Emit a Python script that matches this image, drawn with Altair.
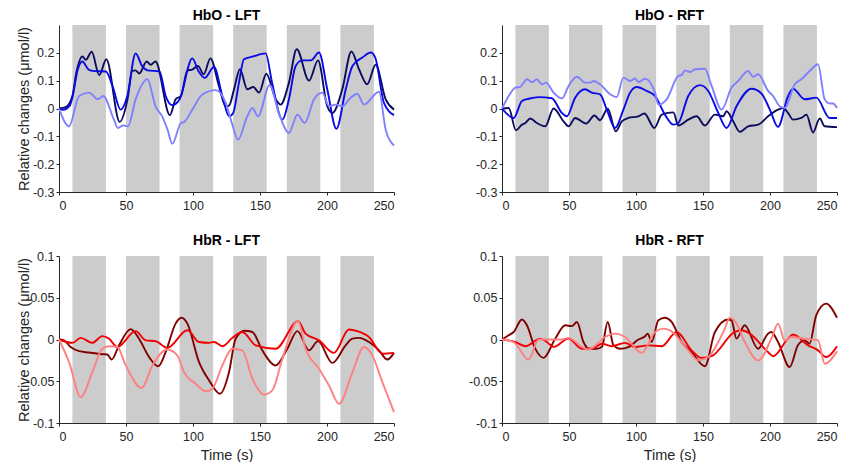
import altair as alt
import pandas as pd

# ---------------- data ----------------
block_start = [10, 50, 90, 130, 170, 210]
block_end = [35, 75, 115, 155, 195, 235]

x_ticks = [0, 50, 100, 150, 200, 250]
hbo_ticks = [-0.3, -0.2, -0.1, 0, 0.1, 0.2]
hbr_ticks = [-0.1, -0.05, 0, 0.05, 0.1]
hbo_domain = [-0.3, 0.3]
hbr_domain = [-0.1, 0.1]

titles = ["HbO - LFT", "HbO - RFT", "HbR - LFT", "HbR - RFT"]

# HbO - LFT
hbo_lft_dark_t = [0, 5, 10, 13, 17.4, 20, 24.4, 30, 35.3, 45.3, 51, 54.7, 57, 60, 65.4, 68.4, 72, 82.8, 87, 91, 95.8, 99.5, 103.7, 108, 113, 119.4, 124.4, 126.9, 130.6, 135, 140.5, 145, 149.3, 154.7, 161.7, 165.4, 171.6, 177.4, 186.6, 193.3, 200.2, 204, 211.4, 218.2, 223.9, 230, 236.3, 243.8, 250]
hbo_lft_dark_v = [0, 0.005, 0.045, 0.13, 0.187, 0.175, 0.204, 0.12, 0.177, -0.048, 0.03, 0.135, 0.137, 0.126, 0.169, 0.157, 0.169, -0.024, 0.033, 0.045, 0.137, 0.14, 0.153, 0.123, 0.18, 0.08, 0.008, 0.01, 0.069, 0.141, 0.069, 0.077, 0.057, 0.125, 0.033, 0.014, 0.093, 0.213, 0.10, 0.173, 0.008, -0.016, 0.069, 0.205, 0.141, 0.087, 0.157, 0.033, -0.004]
hbo_lft_mid_t = [0, 3, 8, 10, 14, 17.4, 22, 25, 35, 40, 46, 51, 57.2, 62, 66, 75, 79.6, 84.6, 90, 99.5, 104, 108.7, 115.7, 121.9, 126.9, 130, 134.3, 138, 145, 154.2, 159, 166.7, 171.6, 176.6, 181.6, 188, 194, 200.2, 207, 214, 219, 226.4, 232.6, 236, 242.5, 250]
hbo_lft_mid_v = [0, -0.005, 0.01, 0.04, 0.14, 0.169, 0.14, 0.135, 0.133, 0.08, -0.004, 0.045, 0.198, 0.153, 0.137, 0.133, 0.045, 0.012, 0.033, 0.18, 0.135, 0.11, 0.149, 0.045, -0.028, -0.016, 0.093, 0.177, 0.187, 0.198, 0.093, -0.04, 0.033, 0.153, 0.173, 0.173, 0.201, 0.069, -0.073, 0.069, 0.153, 0.183, 0.201, 0.183, 0.02, -0.024]
hbo_lft_light_t = [0, 7.5, 15, 22.4, 29, 33, 41, 44, 47.8, 51.5, 57.2, 66, 72, 77, 81, 84.6, 91, 93.3, 99.5, 107, 117, 124.4, 129, 133.6, 140.5, 144.3, 148.5, 157.2, 164, 171.6, 177.9, 183.3, 190.3, 196.5, 201.5, 206.5, 211.4, 217.7, 222.6, 227.6, 238.8, 243.8, 250]
hbo_lft_light_v = [0, -0.064, 0.045, 0.057, 0.033, 0.045, -0.04, -0.07, -0.061, -0.064, 0.033, 0.105, 0.008, -0.028, -0.076, -0.127, -0.052, -0.049, -0.004, 0.05, 0.066, 0.02, -0.052, -0.112, -0.028, 0.002, -0.028, 0.084, -0.016, -0.088, -0.022, -0.052, 0.033, 0.057, 0.008, 0.014, 0.008, 0.039, 0.053, 0.014, 0.06, -0.076, -0.133]

# HbO - RFT
hbo_rft_dark_t = [0, 5, 10.4, 14.9, 17.4, 21.1, 26, 32.3, 38.5, 45.9, 49.7, 54.6, 62.8, 69, 73.2, 78.9, 84.9, 89.4, 94.3, 101.8, 106.3, 113.7, 119.2, 127.9, 131.6, 139, 145.2, 151.4, 158.9, 165, 167.6, 172.5, 177.5, 183.7, 191.2, 198.6, 206, 209.8, 213.5, 217.2, 223.4, 227.2, 232.1, 237.1, 240.8, 250]
hbo_rft_dark_v = [0, 0.002, -0.078, -0.058, -0.052, -0.036, -0.052, -0.064, 0, -0.046, -0.064, -0.034, -0.054, -0.025, -0.042, -0.001, -0.082, -0.046, -0.034, -0.028, -0.018, -0.07, -0.022, -0.014, -0.061, -0.04, -0.028, -0.061, -0.022, -0.028, -0.01, -0.046, -0.084, -0.064, -0.058, -0.028, -0.004, 0.002, -0.016, -0.04, -0.034, -0.022, -0.086, -0.036, -0.064, -0.067]
hbo_rft_mid_t = [0, 8.7, 14.9, 19.9, 27.3, 37.2, 44.7, 48.4, 54.6, 62, 67, 73.2, 78.2, 84.4, 90.6, 95.6, 100.5, 108, 114.2, 121.6, 127.9, 131.6, 139, 147.7, 153.9, 161.4, 167.6, 175, 186.2, 193.6, 199.9, 206, 213.5, 217.2, 225.9, 234.6, 244.5, 250]
hbo_rft_mid_v = [0, -0.034, 0.027, 0.035, 0.041, 0.037, -0.016, -0.028, 0.039, 0.069, 0.057, 0.051, -0.004, -0.07, -0.004, 0.057, 0.077, 0.063, 0.045, -0.022, -0.058, -0.052, 0.045, 0.084, 0.063, -0.016, -0.07, 0.008, 0.071, 0.054, -0.004, -0.066, 0.045, 0.071, 0.033, 0.039, -0.034, -0.034]
hbo_rft_light_t = [0, 5, 10, 13.7, 18.6, 22.3, 26, 29.8, 32.8, 38.5, 44.7, 49.7, 55.9, 62, 65.8, 68.3, 73.2, 80.7, 85.6, 90.6, 95.6, 99.3, 101.8, 106.8, 114.2, 116.7, 122.9, 131.6, 134, 136.5, 140.3, 144, 151.4, 156.4, 163.9, 171.3, 176.3, 183.7, 187.4, 191.2, 198.6, 202.3, 207.3, 211, 218.5, 223.4, 230.9, 235.8, 240.8, 244.6, 247, 250]
hbo_rft_light_v = [0, 0.045, 0.075, 0.078, 0.105, 0.095, 0.105, 0.087, 0.093, 0.057, 0.036, 0.081, 0.114, 0.093, 0.093, 0.099, 0.087, 0.051, 0.041, 0.111, 0.099, 0.108, 0.095, 0.107, 0.057, 0.014, 0.033, 0.117, 0.12, 0.137, 0.131, 0.141, 0.143, 0.081, -0.004, 0.075, 0.099, 0.135, 0.114, 0.123, 0.063, 0.045, 0.008, 0.002, 0.087, 0.105, 0.141, 0.159, 0.033, 0.018, 0.018, 0.002]

# HbR - LFT
hbr_lft_dark_t = [0, 3.7, 8.7, 15, 22.4, 32.3, 36, 39.3, 44.8, 53.5, 59.7, 67.2, 74.1, 79.6, 87, 91.5, 95.8, 104.5, 112, 120.1, 126.9, 131.8, 138.6, 144.3, 151.7, 161.7, 170.4, 177.9, 186.6, 193.3, 204, 213.9, 218.9, 223.9, 231.3, 238.8, 245, 250]
hbr_lft_dark_v = [0, -0.001, -0.009, -0.014, -0.0156, -0.0176, -0.018, -0.024, -0.007, 0.0124, 0.001, -0.021, -0.032, -0.015, 0.019, 0.026, 0.019, -0.027, -0.049, -0.065, -0.039, 0.001, 0.0104, 0.009, -0.013, -0.031, -0.011, 0.01, -0.013, -0.002, -0.028, -0.007, 0.001, 0.002, -0.003, -0.013, -0.024, -0.016]
hbr_lft_mid_t = [0, 10, 16.2, 24.9, 32.3, 37.3, 43.5, 57.2, 64.7, 72.1, 80.8, 95.8, 104.5, 112, 115.7, 121.9, 129.4, 136.8, 146.8, 161.7, 178.4, 184, 194, 205.2, 216.4, 222.6, 231.3, 241.3, 250]
hbr_lft_mid_v = [0, -0.004, 0.002, -0.004, 0.004, 0.001, -0.009, 0.01, -0.001, -0.002, -0.01, 0.011, -0.003, -0.004, -0.003, -0.008, 0.002, 0.009, -0.007, -0.011, 0.022, 0.007, -0.001, -0.016, 0.012, 0.01, 0.003, -0.017, -0.016]
hbr_lft_light_t = [0, 7.5, 16.2, 24.9, 32.3, 37.3, 43.5, 49.8, 61.7, 69.7, 80.8, 88.3, 93.3, 102, 109.5, 114.4, 121.9, 129.4, 136.8, 144.3, 153, 159.2, 166.7, 178.4, 184, 194, 201.5, 209, 219, 227.6, 233.8, 241.3, 250]
hbr_lft_light_v = [0, -0.027, -0.069, -0.039, -0.011, -0.008, -0.009, -0.031, -0.058, -0.031, -0.012, -0.019, -0.039, -0.053, -0.062, -0.059, -0.031, -0.011, -0.013, -0.047, -0.066, -0.061, -0.023, 0.022, -0.011, -0.035, -0.055, -0.077, -0.039, -0.009, -0.019, -0.051, -0.087]

# HbR - RFT
hbr_rft_dark_t = [0, 5, 8.7, 14.9, 18.6, 24.8, 31, 39.7, 47.2, 52.1, 55.9, 60.8, 64.5, 70.7, 74.5, 78.9, 83.2, 88.1, 94.3, 101.8, 106.8, 108.7, 111.7, 116.7, 121.6, 126.6, 134, 141.5, 151.4, 158.9, 168.8, 171.3, 175, 181.1, 191.1, 198.5, 201, 206, 214.7, 220.8, 225.8, 229.5, 234.5, 241.9, 250]
hbr_rft_dark_v = [0, 0.005, 0.009, 0.024, 0.017, -0.011, -0.022, 0.001, 0.017, 0.016, 0.021, -0.003, -0.011, -0.011, -0.009, 0.021, -0.007, -0.011, -0.009, 0, 0.004, 0.007, -0.003, 0.023, 0.026, 0.021, -0.003, -0.015, -0.032, 0.009, 0.024, 0.023, 0.001, 0.017, -0.011, 0.007, 0.009, -0.003, -0.033, -0.007, -0.001, -0.005, 0.029, 0.043, 0.026]
hbr_rft_mid_t = [0, 9.9, 17.4, 28.5, 33.5, 38.5, 49.6, 59.6, 67, 74.5, 81.9, 91.8, 99.3, 109.2, 119.2, 130.3, 141.5, 148.9, 156.4, 173.7, 178.7, 184.9, 198.5, 202.3, 213.4, 217.2, 228.4, 235.9, 241.9, 250]
hbr_rft_mid_v = [0, -0.003, -0.008, 0.001, -0.003, -0.009, 0.001, -0.011, -0.011, -0.005, -0.008, -0.004, -0.009, -0.007, -0.008, 0.009, -0.013, -0.022, -0.02, 0.009, 0.011, 0.007, -0.015, -0.02, 0.001, 0.006, -0.007, -0.013, -0.021, -0.008]
hbr_rft_light_t = [0, 8.7, 19.9, 27.3, 32.3, 44.7, 49.6, 59.6, 64.5, 77, 84.4, 91.8, 104.3, 114.2, 120.4, 125.4, 139, 146.4, 153.9, 161.4, 166.3, 170, 175, 181.1, 191.2, 201, 206, 211, 216, 225.9, 235.9, 240.8, 250]
hbr_rft_light_v = [0, -0.003, -0.024, 0, 0, 0, 0.002, -0.009, -0.012, 0.003, 0.007, 0.003, -0.016, 0.009, 0.013, 0.011, -0.013, -0.025, -0.021, -0.003, 0.013, 0.026, 0.019, -0.003, -0.025, 0.001, 0.019, -0.001, 0.003, 0.001, -0.001, -0.029, -0.014]

hbo_colors = ["#0c0c5e", "#0a0ae8", "#8080ff"]
hbr_colors = ["#800000", "#f20000", "#ff8080"]

# ---------------- chart ----------------
W, H = 335, 167
FONT = "Liberation Sans"


def panel(title, series, colors, domain, ticks, ytitle, xtitle):
    yaxis = alt.Axis(values=ticks, labelExpr="'' + datum.value", title=ytitle,
                     minExtent=28, maxExtent=28, titlePadding=0, labelPadding=2)
    xaxis = alt.Axis(values=x_ticks, format="d", title=xtitle, labelPadding=4, titlePadding=6)
    xs = alt.Scale(domain=[0, 250], nice=False)
    ys = alt.Scale(domain=domain, nice=False)

    blocks = pd.DataFrame({"start": block_start, "end": block_end,
                           "lo": [domain[0]] * len(block_start),
                           "hi": [domain[1]] * len(block_start)})
    rect = alt.Chart(blocks).mark_rect(color="#cccccc").encode(
        x=alt.X("start:Q", scale=xs, axis=xaxis),
        x2="end:Q",
        y=alt.Y("lo:Q", scale=ys, axis=yaxis),
        y2="hi:Q",
    )
    layers = [rect]
    for (t, v), col in zip(series, colors):
        df = pd.DataFrame({"t": t, "v": v})
        layers.append(
            alt.Chart(df).mark_line(color=col, strokeWidth=1.9, interpolate="monotone").encode(
                x=alt.X("t:Q", scale=xs, axis=xaxis),
                y=alt.Y("v:Q", scale=ys, axis=yaxis),
            )
        )
    return alt.layer(*layers).properties(width=W, height=H, title=title)


ylab = "Relative changes (μmol/l)"
tl = panel(titles[0], [(hbo_lft_dark_t, hbo_lft_dark_v), (hbo_lft_mid_t, hbo_lft_mid_v), (hbo_lft_light_t, hbo_lft_light_v)],
           hbo_colors, hbo_domain, hbo_ticks, ylab, None)
tr = panel(titles[1], [(hbo_rft_dark_t, hbo_rft_dark_v), (hbo_rft_mid_t, hbo_rft_mid_v), (hbo_rft_light_t, hbo_rft_light_v)],
           hbo_colors, hbo_domain, hbo_ticks, None, None)
bl = panel(titles[2], [(hbr_lft_dark_t, hbr_lft_dark_v), (hbr_lft_mid_t, hbr_lft_mid_v), (hbr_lft_light_t, hbr_lft_light_v)],
           hbr_colors, hbr_domain, hbr_ticks, ylab, "Time (s)")
br = panel(titles[3], [(hbr_rft_dark_t, hbr_rft_dark_v), (hbr_rft_mid_t, hbr_rft_mid_v), (hbr_rft_light_t, hbr_rft_light_v)],
           hbr_colors, hbr_domain, hbr_ticks, None, "Time (s)")

chart = alt.vconcat(
    alt.hconcat(tl, tr, spacing=108, bounds="flush"),
    alt.hconcat(bl, br, spacing=108, bounds="flush"),
    spacing=22,
).properties(
    padding={"left": 8, "top": 1, "right": 0, "bottom": 0}
).configure_view(stroke=None).configure_axis(
    labelFont=FONT, labelFontSize=12.5, labelColor="#262626",
    titleFont=FONT, titleFontSize=14.5, titleFontWeight="normal", titleColor="#262626",
    domainColor="#262626", tickColor="#262626", tickSize=3,
    grid=False, labelOverlap=False,
).configure_title(
    font=FONT, fontSize=14, fontWeight="bold", color="#000000", offset=2,
)

chart.save("out.html", embed_options={"renderer": "svg", "actions": False})
